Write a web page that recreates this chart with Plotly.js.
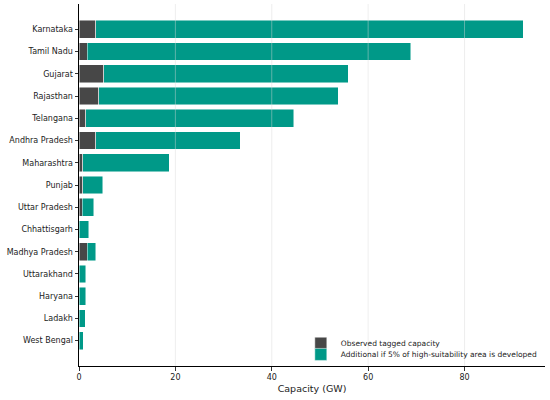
<!DOCTYPE html>
<html>
<head>
<meta charset="utf-8">
<script src="https://cdn.plot.ly/plotly-3.0.1.min.js"></script>
<style>html,body{margin:0;padding:0;background:#fff;}#chart{width:550px;height:400px;}</style>
</head>
<body>
<div id="chart"></div>
<script>
var states = ["Karnataka","Tamil Nadu","Gujarat","Rajasthan","Telangana","Andhra Pradesh","Maharashtra","Punjab","Uttar Pradesh","Chhattisgarh","Madhya Pradesh","Uttarakhand","Haryana","Ladakh","West Bengal"];
var observed = [3.5, 1.7, 5.1, 4.1, 1.4, 3.5, 0.8, 0.8, 0.7, 0.05, 1.7, 0.05, 0.05, 0.05, 0.05];
var additional = [88.7, 67.1, 50.8, 49.7, 43.2, 30.0, 17.9, 4.1, 2.4, 1.95, 1.8, 1.4, 1.35, 1.2, 0.8];
var xTicks = [0, 20, 40, 60, 80];
var seriesNames = ["Observed tagged capacity", "Additional if 5% of high-suitability area is developed"];

var font = "DejaVu Sans, sans-serif";
var traces = [
  {type:"bar", orientation:"h", y:states, x:observed, name:seriesNames[0], legend:"legend",
   marker:{color:"#474747", line:{color:"rgba(255,255,255,0.8)", width:0.6}}},
  {type:"bar", orientation:"h", y:states, x:additional, name:seriesNames[1], legend:"legend2",
   marker:{color:"#009988", line:{color:"rgba(255,255,255,0.8)", width:0.6}}}
];
var grid = xTicks.slice(1).map(function(v){
  return {type:"line", xref:"x", yref:"paper", x0:v, x1:v, y0:0, y1:1, layer:"above",
          line:{color:"rgba(215,215,215,0.55)", width:0.8}};
});
var legFont = {size:7.5, family:font, color:"#222"};
var layout = {
  width:550, height:400,
  margin:{l:79, r:5, t:4, b:34},
  paper_bgcolor:"#fff", plot_bgcolor:"#fff",
  barmode:"stack", bargap:0.2,
  font:{family:font, size:8, color:"#222"},
  showlegend:true,
  legend:{x:0.476, xanchor:"left", y:0.063, yanchor:"middle",
          bgcolor:"rgba(255,255,255,0)", font:legFont, itemwidth:30},
  legend2:{x:0.476, xanchor:"left", y:0.032, yanchor:"middle",
          bgcolor:"rgba(255,255,255,0)", font:legFont, itemwidth:30},
  xaxis:{range:[0, 96.7], tickvals:xTicks, ticktext:xTicks.map(String),
         showgrid:false, zeroline:false, showline:true, linecolor:"#000", linewidth:1,
         ticks:"outside", ticklen:3.5, tickwidth:0.8, tickcolor:"#000",
         tickfont:{size:8, family:font, color:"#222"},
         title:{text:"Capacity (GW)", font:{size:9.5, family:font, color:"#222"}, standoff:4}},
  yaxis:{type:"category", categoryorder:"array", categoryarray:states, range:[15.14, -1.14],
         showgrid:false, zeroline:false, showline:true, linecolor:"#000", linewidth:1,
         ticks:"outside", ticklen:3.5, tickwidth:0.8, tickcolor:"#000",
         tickfont:{size:8, family:font, color:"#222"}},
  shapes:grid
};
Plotly.newPlot("chart", traces, layout, {displayModeBar:false, staticPlot:true});
</script>
</body>
</html>
